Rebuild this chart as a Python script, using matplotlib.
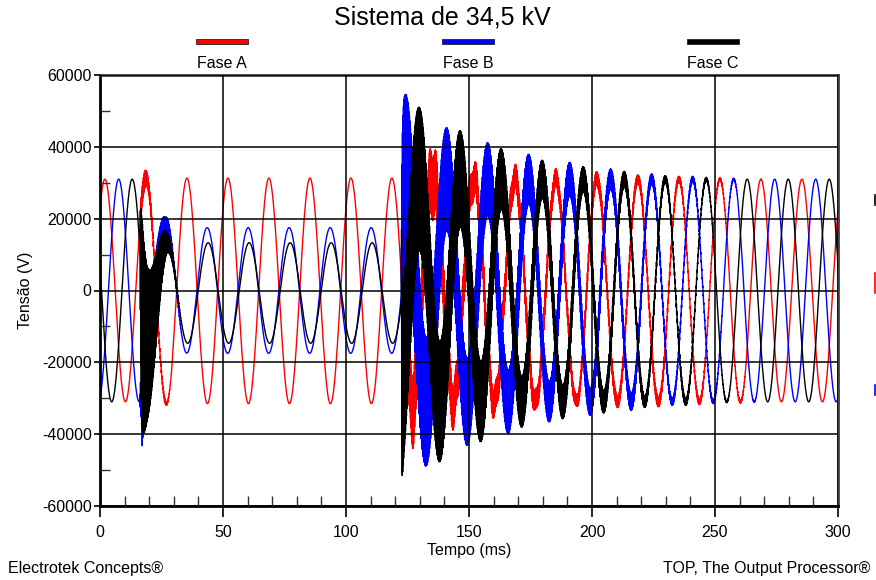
import numpy as np
import matplotlib.pyplot as plt
from matplotlib.lines import Line2D
from matplotlib.patches import Rectangle
from matplotlib.ticker import MultipleLocator

plt.rcParams['font.family'] = ['Liberation Sans', 'DejaVu Sans']
plt.rcParams['axes.unicode_minus'] = False

# --- values (time in ms, voltage in V) ---
freq = 60.0                      # system frequency, Hz
seg_edges = [16.3, 122.6]        # fault inception / fault clearing

# fundamental per segment: pre-fault, fault, post-fault
amp_a = [31000, 31400, 31000]
amp_b = [31000, 17500, 31000]
amp_c = [31000, 14000, 31000]
peak_a = [2.0, 2.0, 2.0]         # time of a positive peak in each segment
peak_b = [7.6, 26.9, 7.6]
peak_c = [13.1, 27.3, 13.1]
dc_a = [0, -100, 0]
dc_b = [0, 0, 0]
dc_c = [0, -700, 0]

# extra swing of phase B right after the fault starts
b_onset_t = [16.3, 17.1, 19.0, 20.3, 23.0, 26.5, 31.0, 36.0]
b_onset_v = [0, -25000, -3500, 12000, 8000, 1000, 500, 0]

# high-frequency ripple amplitude (switching transients)
a_hf_t = [16.2, 16.3, 18.0, 20.0, 25.0, 30.0, 122.5, 122.6, 127.0, 135.3, 143.7,
          152.0, 160.3, 168.7, 177.0, 185.3, 193.7, 202.0, 210.3, 218.7, 227.0,
          235.4, 243.5, 251.6, 260.4, 270.0]
a_hf_v = [0, 2500, 2500, 1500, 800, 0, 0, 5000, 9500, 8500, 5500,
          4200, 3700, 3200, 2800, 2300, 1600, 1900, 1600, 1200, 1400,
          800, 800, 400, 400, 0]
a_mid_t = [122.6, 130.0, 150.0, 180.0, 220.0]     # ~370 Hz ripple on phase A
a_mid_v = [4000, 3500, 2000, 800, 0]

b_hf_t = [16.2, 16.3, 20.0, 27.0, 31.0, 34.0, 122.5, 122.6, 124.0, 132.0, 140.5,
          149.0, 157.0, 166.0, 174.0, 182.0, 191.0, 199.0, 207.0, 216.0, 224.0,
          232.0, 241.0, 250.0, 260.0, 275.0]
b_hf_v = [0, 3000, 2200, 2000, 600, 0, 0, 25000, 24000, 18200, 14500,
          12200, 10300, 8900, 7000, 5700, 4700, 3800, 2900, 2400, 1500,
          1000, 800, 500, 200, 0]

c_hf_t = [16.2, 16.3, 16.7, 17.2, 19.0, 21.0, 23.0, 25.0, 27.0, 30.0, 33.0, 122.5,
          122.6, 123.5, 129.8, 138.2, 146.3, 154.7, 163.3, 171.4, 179.8, 188.1,
          196.5, 204.9, 213.1, 221.3, 229.9, 238.2, 246.6, 263.0]
c_hf_v = [0, 6000, 26000, 29000, 22000, 17000, 12000, 7000, 3000, 1000, 0, 0,
          27000, 24000, 20000, 16800, 13500, 11200, 8400, 7100, 5300, 4700,
          3500, 3100, 2200, 1600, 1000, 1000, 500, 0]

t = np.arange(0, 300.005, 0.01)
w = 2 * np.pi * freq / 1000.0    # rad per ms


def fundamental(amps, peaks, dcs, taus=(0.3, 0.3)):
    edges = [-np.inf] + seg_edges + [np.inf]
    y = np.zeros_like(t)
    for k in range(3):
        m = (t >= edges[k]) & (t < edges[k + 1])
        y[m] = dcs[k] + amps[k] * np.cos(w * (t[m] - peaks[k]))
    # keep the curve continuous at each switching instant
    for k, t0 in enumerate(seg_edges):
        before = dcs[k] + amps[k] * np.cos(w * (t0 - peaks[k]))
        after = dcs[k + 1] + amps[k + 1] * np.cos(w * (t0 - peaks[k + 1]))
        m = t >= t0
        y[m] += (before - after) * np.exp(-(t[m] - t0) / taus[k])
    return y


def ripple(kt, kv, f_khz, ph=0.0):
    return np.interp(t, kt, kv, left=0, right=0) * np.sin(2 * np.pi * f_khz * t + ph)


va = fundamental(amp_a, peak_a, dc_a) + ripple(a_hf_t, a_hf_v, 4.61)
va -= np.interp(t, a_mid_t, a_mid_v, left=0, right=0) * np.cos(2 * np.pi * 0.37 * (t - 135.3))
vb = fundamental(amp_b, peak_b, dc_b) + np.interp(t, b_onset_t, b_onset_v, left=0, right=0)
vb += ripple(b_hf_t, b_hf_v, 4.93, 0.7)
vc = fundamental(amp_c, peak_c, dc_c, taus=(0.4, 0.08)) + ripple(c_hf_t, c_hf_v, 5.27, 1.9)

fig = plt.figure(figsize=(8.76, 5.8), dpi=100)
ax = fig.add_axes([100 / 876, 74 / 580, 738 / 876, 431 / 580])

ax.plot(t, va, color='#ff0000', lw=1.0)
ax.plot(t, vb, color='#0000ff', lw=1.0)
ax.plot(t, vc, color='#000000', lw=1.0)

ax.set_xlim(0, 300)
ax.set_ylim(-60000, 60000)
ax.xaxis.set_major_locator(MultipleLocator(50))
ax.xaxis.set_minor_locator(MultipleLocator(10))
ax.yaxis.set_major_locator(MultipleLocator(20000))
ax.yaxis.set_minor_locator(MultipleLocator(10000))
ax.set_axisbelow(False)
ax.grid(True, which='major', color='black', lw=1.1)
ax.tick_params(which='major', direction='out', width=1.2, labelsize=11.5)
ax.tick_params(axis='x', which='major', length=8, pad=6)
ax.tick_params(axis='y', which='major', length=4, pad=2)
ax.tick_params(which='minor', direction='in', length=7, width=1, color='#333333')

for side in ['left', 'bottom']:
    ax.spines[side].set_linewidth(2)
    ax.spines[side].set_color('black')
for side in ['top', 'right']:
    ax.spines[side].set_linewidth(2)
    ax.spines[side].set_color('#404040')

ax.set_xlabel('Tempo (ms)', fontsize=11.5, labelpad=2)
ax.set_ylabel('Tensão (V)', fontsize=11.5, labelpad=6)

fig.text(442 / 876, 1 - 25 / 580, 'Sistema de 34,5 kV', ha='center', va='baseline', fontsize=18)

legend_names = ['Fase A', 'Fase B', 'Fase C']
legend_colors = ['#ff0000', '#0000ff', '#000000']
legend_x = [222, 468, 713]
for name, col, xc in zip(legend_names, legend_colors, legend_x):
    fig.add_artist(Rectangle(((xc - 26) / 876, 1 - 43.5 / 580), 52 / 876, 4.5 / 580,
                             transform=fig.transFigure, facecolor=col,
                             edgecolor='#222222', lw=0.6))
    fig.text(xc / 876, 1 - 68 / 580, name, ha='center', va='baseline', fontsize=11.5)

fig.text(8 / 876, 1 - 568 / 580, 'Electrotek Concepts®', ha='left', va='center', fontsize=11.5)
fig.text(870 / 876, 1 - 568 / 580, 'TOP, The Output Processor®', ha='right', va='center', fontsize=11.5)

# clipped marks at the right edge
for col, y0, y1 in [('#000000', 195, 205), ('#ff0000', 273, 293), ('#0000ff', 385, 395)]:
    fig.add_artist(Line2D([874.5 / 876] * 2, [1 - y0 / 580, 1 - y1 / 580],
                          transform=fig.transFigure, color=col, lw=1.2))

fig.savefig('out.png', dpi=100)
